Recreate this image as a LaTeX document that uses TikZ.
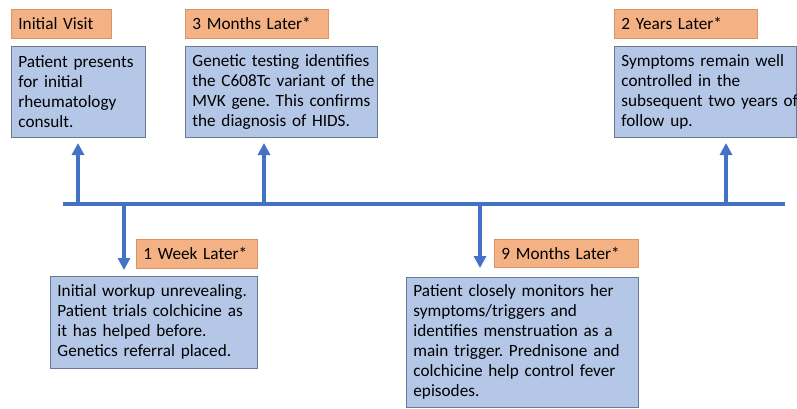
\documentclass[tikz,border=0pt]{standalone}
\usepackage{fontspec}
\setmainfont{Carlito}
\usetikzlibrary{arrows.meta}
\definecolor{boxblue}{HTML}{B4C7E7}
\definecolor{boxedge}{HTML}{6A7A94}
\definecolor{boxorange}{HTML}{F4B183}
\definecolor{orangeedge}{HTML}{D9946A}
\definecolor{lineblue}{HTML}{4472C4}
\frenchspacing
\newcommand{\oneline}[1]{\mbox{#1}}
\begin{document}
\begin{tikzpicture}[x=1pt,y=-1pt,
  bluebox/.style={draw=boxedge, fill=boxblue, line width=0.8pt, anchor=north west,
    align=left, inner xsep=7pt, inner ysep=3pt, font=\fontsize{17.2}{20}\selectfont},
  orangebox/.style={draw=orangeedge, fill=boxorange, line width=0.8pt, anchor=north west,
    align=left, inner xsep=7pt, inner ysep=2pt, font=\fontsize{17.2}{19}\selectfont},
  tline/.style={draw=lineblue, line width=4.5pt},
  tarrow/.style={draw=lineblue, line width=4.5pt, -{Triangle[width=12pt,length=12pt]}}]
\useasboundingbox (0,0) rectangle (797,408);
% labels
\node[orangebox, minimum width=100pt, minimum height=29pt, text width=86pt] (l1) at (11,9) {Initial Visit};
\node[orangebox, minimum width=143pt, minimum height=29pt, text width=129pt] (l2) at (185,9) {3 Months Later*};
\node[orangebox, minimum width=143pt, minimum height=29pt, text width=129pt] (l3) at (614,9) {2 Years Later*};
\node[orangebox, minimum width=121pt, minimum height=29pt, text width=107pt] (l4) at (136,239) {1 Week Later*};
\node[orangebox, minimum width=144pt, minimum height=28pt, text width=130pt] (l5) at (494,239) {9 Months Later*};
% boxes
\node[bluebox, minimum width=134pt, minimum height=91pt, text width=120pt] (b1) at (11,46)
  {\oneline{Patient presents}\\\oneline{for initial}\\\oneline{rheumatology}\\\oneline{consult.}};
\node[bluebox, minimum width=192pt, minimum height=91pt, text width=178pt] (b2) at (185,46)
  {\oneline{Genetic testing identifies}\\\oneline{the C608Tc variant of the}\\\oneline{MVK gene. This confirms}\\\oneline{the diagnosis of HIDS.}};
\node[bluebox, minimum width=182pt, minimum height=91pt, text width=168pt] (b3) at (614,46)
  {\oneline{Symptoms remain well}\\\oneline{controlled in the}\\\oneline{subsequent two years of}\\\oneline{follow up.}};
\node[bluebox, minimum width=207pt, minimum height=92pt, text width=193pt] (b4) at (50,276)
  {\oneline{Initial workup unrevealing.}\\\oneline{Patient trials colchicine as}\\\oneline{it has helped before.}\\\oneline{Genetics referral placed.}};
\node[bluebox, minimum width=232pt, minimum height=130pt, text width=218pt] (b5) at (406,277)
  {\oneline{Patient closely monitors her}\\\oneline{symptoms/triggers and}\\\oneline{identifies menstruation as a}\\\oneline{main trigger. Prednisone and}\\\oneline{colchicine help control fever}\\\oneline{episodes.}};
% timeline
\coordinate (ts) at (63,204);
\coordinate (te) at (785,204);
\coordinate (t1) at (78,204);
\coordinate (t2) at (124,204);
\coordinate (t3) at (264,204);
\coordinate (t4) at (480,204);
\coordinate (t5) at (726,204);
\coordinate (a1) at (78,143);
\coordinate (a2) at (124,270);
\coordinate (a3) at (264,143);
\coordinate (a4) at (480,268);
\coordinate (a5) at (726,143);
\draw[tline] (ts) -- (te);
\draw[tarrow] (t1) -- (a1);
\draw[tarrow] (t2) -- (a2);
\draw[tarrow] (t3) -- (a3);
\draw[tarrow] (t4) -- (a4);
\draw[tarrow] (t5) -- (a5);
\end{tikzpicture}
\end{document}
